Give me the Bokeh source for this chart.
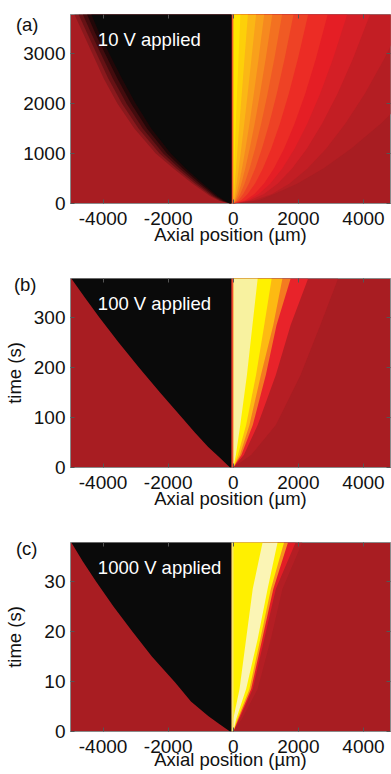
from bokeh.plotting import figure
from bokeh.layouts import column
from bokeh.models import Label, LinearAxis, Range1d, FixedTicker
from bokeh.embed import file_html
from bokeh.resources import INLINE

FONT = "Liberation Sans"
BG = "#A81D22"
BLACK = "#0A0A0A"
INK = "#111111"

X_RANGE = (-5000, 4830)
X_TICKS = [-4000, -2000, 0, 2000, 4000]
X_TICK_LABELS = ["-4000", "-2000", "0", "2000", "4000"]
X_LABEL = "Axial position (\u00b5m)"
Y_LABEL = "time (s)"

# ---------- panel (a): 10 V ----------
A_TMAX = 3780
A_YTICKS = [0, 1000, 2000, 3000]
A_LEFT_T = [0, 50, 150, 400, 700, 1000, 1500, 2000, 2500, 3000, 3400, 3780]
A_G1 = [-100, -420, -720, -1260, -1840, -2380, -3040, -3560, -3980, -4330, -4610, -4880]
A_G2 = [-100, -375, -660, -1180, -1745, -2265, -2910, -3420, -3840, -4200, -4485, -4750]
A_G3 = [-100, -330, -600, -1100, -1650, -2150, -2780, -3280, -3700, -4070, -4360, -4620]
A_G4 = [-100, -285, -540, -1020, -1555, -2035, -2650, -3140, -3560, -3940, -4235, -4490]
A_G5 = [-100, -240, -480, -940, -1460, -1920, -2520, -3000, -3420, -3810, -4110, -4360]
A_RIGHT_T = [0, 60, 190, 400, 700, 1100, 1600, 2200, 2900, 3780]
A_L1 = [0, 2, 6, 15, 29, 50, 78, 115, 160, 220]
A_L2 = [0, 7, 23, 48, 83, 131, 190, 262, 345, 450]
A_L3 = [0, 21, 55, 104, 167, 245, 337, 442, 559, 700]
A_L4 = [0, 43, 101, 177, 268, 376, 499, 633, 779, 950]
A_L5 = [0, 66, 148, 250, 368, 505, 658, 822, 997, 1200]
A_L6 = [0, 102, 215, 348, 501, 672, 858, 1055, 1263, 1500]
A_L7 = [0, 155, 307, 481, 673, 882, 1104, 1338, 1578, 1850]
A_L8 = [0, 237, 442, 669, 909, 1166, 1433, 1707, 1987, 2300]
A_L9 = [0, 365, 650, 945, 1247, 1563, 1885, 2213, 2540, 2900]
A_L10 = [0, 441, 784, 1141, 1505, 1887, 2275, 2671, 3066, 3500]
A_L11 = [0, 500, 941, 1369, 1806, 2264, 2730, 3205, 3679, 4200]
A_L12 = [0, 620, 1187, 1728, 2279, 2857, 3445, 4044, 4643, 5300]
A_L13 = [0, 760, 1262, 1976, 2766, 3625, 4537, 5495, 6483, 7600]

# ---------- panel (b): 100 V ----------
B_TMAX = 378
B_YTICKS = [0, 100, 200, 300]
B_LEFT_T = [0, 20, 41, 70, 100, 150, 200, 250, 300, 340, 378]
B_LEFT = [-100, -420, -770, -1180, -1580, -2250, -2897, -3520, -4112,
          -4560, -4975]
B_RIGHT_T = [0, 25, 85, 185, 285, 378]
B_C1 = [0, 81, 215, 420, 590, 750]
B_C2 = [0, 142, 395, 700, 952, 1180]
B_C3 = [0, 203, 497, 850, 1230, 1510]
B_C4 = [0, 250, 600, 1000, 1330, 1763]
B_C5 = [0, 324, 750, 1307, 1763, 2300]
B_C6 = [0, 547, 1307, 2067, 2675, 3220]

# ---------- panel (c): 1000 V ----------
C_TMAX = 37.8
C_YTICKS = [0, 10, 20, 30]
C_LEFT_T = [0, 1.5, 3.1, 6, 9.8, 15, 20, 25, 30, 34, 37.8]
C_LEFT = [-100, -430, -770, -1300, -1784, -2500, -3100, -3680, -4215,
          -4620, -4975]
C_RIGHT_T = [0, 2.5, 8.5, 18.5, 28.5, 37.8]
C_C1 = [0, 0, 193, 395, 598, 900]
C_C2 = [0, 91, 395, 750, 1054, 1360]
C_C3 = [0, 130, 497, 831, 1155, 1560]
C_C4 = [0, 160, 550, 890, 1230, 1680]
C_C5 = [0, 193, 598, 952, 1307, 1915]
C_C6 = [0, 264, 750, 1155, 1510, 2120]


def style_axis(ax, size="19px"):
    ax.axis_line_color = None
    ax.major_tick_in = 4
    ax.major_tick_out = 0
    ax.minor_tick_in = 0
    ax.minor_tick_out = 0
    ax.major_tick_line_color = "#555555"
    ax.major_label_text_font = FONT
    ax.major_label_text_font_size = size
    ax.major_label_text_color = INK
    ax.axis_label_text_font = FONT
    ax.axis_label_text_font_size = "18.5px"
    ax.axis_label_text_font_style = "normal"
    ax.axis_label_text_color = INK


def make_panel(tmax, yticks, left_t, left_bounds, left_colors, right_t,
               right_bounds, right_colors, stripe_color, letter, letter_t,
               letter_standoff, note, show_ylabel, ylabel_standoff,
               height, top_border, bottom_border, xlabel_standoff):
    p = figure(width=391, height=height,
               x_range=Range1d(*X_RANGE), y_range=Range1d(0, tmax),
               output_backend="svg", toolbar_location=None,
               min_border_left=67, min_border_right=1,
               min_border_top=top_border, min_border_bottom=bottom_border,
               background_fill_color=BG, border_fill_color="white",
               outline_line_color="#8A8A8A", outline_line_width=1)
    p.grid.visible = False

    # right side bands, drawn outermost first
    for bound, col in list(zip(right_bounds, right_colors))[::-1]:
        p.harea(x1=0, x2=bound, y=right_t, fill_color=col)
    # thin stripe at the origin
    p.harea(x1=-60, x2=0, y=[0, tmax], fill_color=stripe_color)
    # left side (black region), outermost first
    for bound, col in zip(left_bounds, left_colors):
        p.harea(x1=bound, x2=-60, y=left_t, fill_color=col)

    xa, ya = p.xaxis[0], p.yaxis[0]
    style_axis(xa)
    style_axis(ya)
    xa.ticker = FixedTicker(ticks=X_TICKS)
    xa.major_label_overrides = dict(zip(X_TICKS, X_TICK_LABELS))
    ya.ticker = FixedTicker(ticks=yticks)
    xa.major_label_standoff = 8
    ya.major_label_standoff = 5
    xa.axis_label = X_LABEL
    xa.axis_label_standoff = xlabel_standoff
    if show_ylabel:
        ya.axis_label = Y_LABEL
        ya.axis_label_standoff = ylabel_standoff

    for loc, ticks in (("above", X_TICKS), ("right", yticks)):
        ax = LinearAxis(ticker=FixedTicker(ticks=ticks),
                        major_label_text_font_size="0px",
                        major_label_standoff=0, axis_line_color=None,
                        major_tick_in=4, major_tick_out=0,
                        minor_tick_in=0, minor_tick_out=0,
                        major_tick_line_color="#555555")
        p.add_layout(ax, loc)

    # panel letter as the single label of an outer left axis
    lax = LinearAxis(ticker=FixedTicker(ticks=[letter_t]),
                     major_label_overrides={letter_t: letter},
                     major_label_standoff=letter_standoff,
                     axis_line_color=None, major_tick_line_color=None,
                     major_tick_in=0, major_tick_out=0,
                     minor_tick_in=0, minor_tick_out=0,
                     minor_tick_line_color=None,
                     major_label_text_font=FONT,
                     major_label_text_font_size="18.5px",
                     major_label_text_color=INK)
    p.add_layout(lax, "left")

    p.add_layout(Label(x=-4160, y=0.869 * tmax, text=note,
                       text_font=FONT, text_font_size="18.5px",
                       text_color="white", text_align="left",
                       text_baseline="middle"))
    return p


pa = make_panel(A_TMAX, A_YTICKS, A_LEFT_T,
                [A_G1, A_G2, A_G3, A_G4, A_G5],
                ["#8A191D", "#661215", "#430C0E", "#220708", BLACK],
                A_RIGHT_T,
                [A_L1, A_L2, A_L3, A_L4, A_L5, A_L6, A_L7, A_L8, A_L9,
                 A_L10, A_L11, A_L12, A_L13],
                ["#FFE500", "#FDD009", "#FBB715", "#F9A01B", "#F6891F",
                 "#F37121", "#F05A24", "#EE4225", "#EC2C25", "#E51E25",
                 "#D41F26", "#C31E24", "#B41E23"],
                "#F0602A", "(a)", 3590, -18, "10 V applied", False, 0,
                271, 14, 68, -4)

pb = make_panel(B_TMAX, B_YTICKS, B_LEFT_T, [B_LEFT], [BLACK],
                B_RIGHT_T, [B_C1, B_C2, B_C3, B_C4, B_C5, B_C6],
                ["#F8F2A0", "#FFF100", "#FDBA12", "#F47B20", "#E8232A",
                 "#B61E24"],
                "#EC4A2E", "(b)", 366, -36, "100 V applied", True, 6,
                264, 7, 68, -4)

pc = make_panel(C_TMAX, C_YTICKS, C_LEFT_T, [C_LEFT], [BLACK],
                C_RIGHT_T, [C_C1, C_C2, C_C3, C_C4, C_C5, C_C6],
                ["#FFF000", "#FBF5B5", "#FFF100", "#F7941D", "#E31E26",
                 "#B41E24"],
                "#F5E66A", "(c)", 36.6, -36, "1000 V applied", True, 16,
                239, 7, 43, -7)

layout = column(pa, pb, pc, spacing=0)
open("out.html", "w").write(file_html(layout, INLINE))
